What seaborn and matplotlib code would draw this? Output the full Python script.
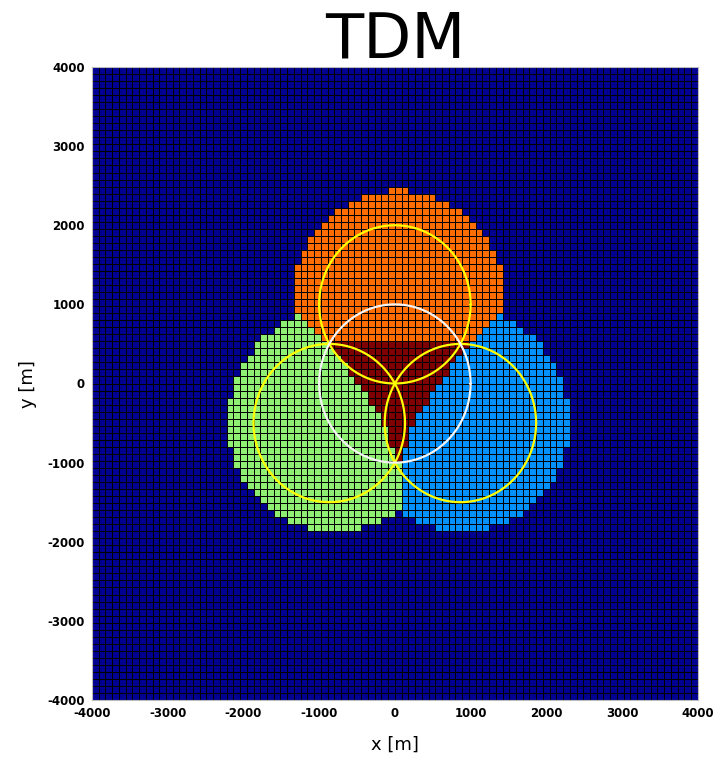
import numpy as np
import pandas as pd
import matplotlib
matplotlib.use("Agg")
import matplotlib.pyplot as plt
import seaborn as sns
from matplotlib.colors import ListedColormap
from matplotlib.path import Path

# ---------------- data ----------------
AREA_MIN_M = -4000
AREA_MAX_M = 4000
N_CELLS = 90                      # cells per axis
TICK_VALUES = [-4000, -3000, -2000, -1000, 0, 1000, 2000, 3000, 4000]

CATEGORIES = ["none", "cell 1", "cell 2", "cell 3", "shared"]
CATEGORY_COLORS = ["#000091", "#FF6D00", "#8FEF73", "#0091FF", "#7F0000"]

# coverage discs (centre x, centre y, radius) in metres
ORANGE_DISC = (44, 1055, 1400)
GREEN_DISC = (-800, -470, 1410)
BLUE_DISC = (889, -470, 1410)

# sector of cell 1 (upper sector), polygon vertices in metres
ORANGE_SECTOR_X = [-4000, -880, 968, 4000, 4000, -4000]
ORANGE_SECTOR_Y = [3151, 530, 530, 3077, 4000, 4000]

# split between cell 2 and cell 3 (vertical line), metres
GREEN_BLUE_SPLIT_X = 80

# shared (TDM) area outline, metres
RED_X = [-900, -850, -700, -560, -420, -300, -180, -90, -10, 0,
         88, 98, 178, 268, 388, 508, 648, 788, 938, 988]
RED_Y = [540, 450, 300, 100, -100, -280, -450, -640, -850, -1000,
         -1000, -850, -640, -450, -280, -100, 100, 300, 450, 540]

# overlay circles
CIRCLE_X = [0, -866, 866, 0]
CIRCLE_Y = [1000, -500, -500, 0]
CIRCLE_R = [1000, 1000, 1000, 1000]
CIRCLE_COLORS = ["#FFFF00", "#FFFF00", "#FFFF00", "#F4F4F4"]

# ---------------- build the cell map ----------------
edges = np.linspace(AREA_MIN_M, AREA_MAX_M, N_CELLS + 1)
centers = (edges[:-1] + edges[1:]) / 2
XX, YY = np.meshgrid(centers, centers[::-1])          # row 0 = top
pts = np.column_stack([XX.ravel(), YY.ravel()])


def in_disc(d):
    return (XX - d[0]) ** 2 + (YY - d[1]) ** 2 <= d[2] ** 2


in_red = Path(np.column_stack([RED_X, RED_Y])).contains_points(pts).reshape(XX.shape)
in_orange_sector = Path(np.column_stack([ORANGE_SECTOR_X, ORANGE_SECTOR_Y])).contains_points(pts).reshape(XX.shape)

grid = np.zeros(XX.shape, dtype=int)
grid[in_orange_sector & in_disc(ORANGE_DISC)] = 1
rest = ~in_orange_sector & ~in_red
grid[rest & (XX < GREEN_BLUE_SPLIT_X) & in_disc(GREEN_DISC)] = 2
grid[rest & (XX >= GREEN_BLUE_SPLIT_X) & in_disc(BLUE_DISC)] = 3
grid[in_red] = 4

df = pd.DataFrame(grid, index=centers[::-1].round(1), columns=centers.round(1))

# ---------------- plot ----------------
sns.set_style("white")
plt.rcParams["font.family"] = ["DejaVu Sans"]
plt.rcParams["text.color"] = "black"
plt.rcParams["xtick.color"] = "black"
plt.rcParams["ytick.color"] = "black"

fig = plt.figure(figsize=(7.16, 7.6), dpi=100)
ax = fig.add_axes([92 / 716, 1 - 700 / 760, (697.7 - 92) / 716, (700 - 67) / 760])

sns.heatmap(df, ax=ax, cmap=ListedColormap(CATEGORY_COLORS), vmin=-0.5, vmax=4.5,
            cbar=False, linewidths=0.6, linecolor="black",
            xticklabels=False, yticklabels=False)


def to_idx_x(x):
    return (np.asarray(x) - AREA_MIN_M) / (AREA_MAX_M - AREA_MIN_M) * N_CELLS


def to_idx_y(y):
    return (AREA_MAX_M - np.asarray(y)) / (AREA_MAX_M - AREA_MIN_M) * N_CELLS


theta = np.linspace(0, 2 * np.pi, 400)
for cx, cy, r, c in zip(CIRCLE_X, CIRCLE_Y, CIRCLE_R, CIRCLE_COLORS):
    ax.plot(to_idx_x(cx + r * np.cos(theta)), to_idx_y(cy + r * np.sin(theta)),
            color=c, lw=1.6)

ax.set_xlim(0, N_CELLS)
ax.set_ylim(N_CELLS, 0)
ax.set_xticks(to_idx_x(TICK_VALUES))
ax.set_xticklabels([str(v) for v in TICK_VALUES], rotation=0,
                   fontsize=8.5, fontweight="bold", color="black")
ax.set_yticks(to_idx_y(TICK_VALUES))
ax.set_yticklabels([str(v) for v in TICK_VALUES], rotation=0,
                   fontsize=8.5, fontweight="bold", color="black")
ax.tick_params(length=0, pad=5)
ax.set_xlabel("")
ax.set_ylabel("")
for s in ax.spines.values():
    s.set_visible(True)
    s.set_color("#BBBBBB")
    s.set_linewidth(0.8)

fig.text(395 / 716, 1 - 58 / 760, "TDM", ha="center", va="baseline",
         fontsize=45, color="black")
fig.text(395 / 716, 1 - 745 / 760, "x [m]", ha="center", va="center",
         fontsize=13, color="black")
fig.text(28 / 716, 1 - 384 / 760, "y [m]", ha="center", va="center",
         fontsize=13, rotation=90, color="black")

fig.savefig("out.png", dpi=100)
